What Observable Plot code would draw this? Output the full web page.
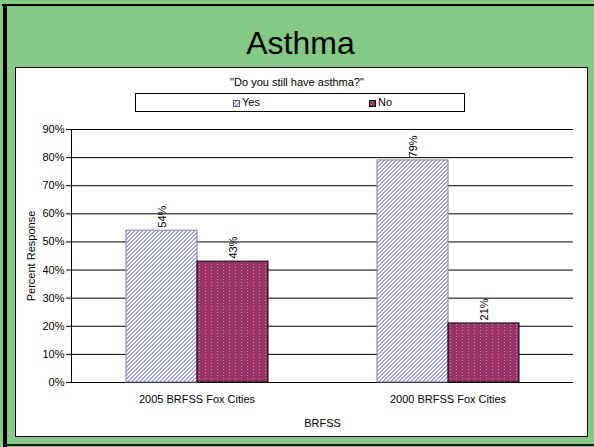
<!DOCTYPE html>
<html>
<head>
<meta charset="utf-8">
<script src="https://cdn.jsdelivr.net/npm/d3@7"></script>
<script src="https://cdn.jsdelivr.net/npm/@observablehq/plot@0.6"></script>
<style>
html, body { margin: 0; padding: 0; }
body { width: 594px; height: 447px; overflow: hidden; position: relative; background: #84CA84; font-family: "Liberation Sans", Arial, sans-serif; color: #000; }
#edgeTop { position: absolute; left: 2px; top: 4px; width: 592px; height: 2px; background: #000; }
#edgeLeft { position: absolute; left: 3px; top: 4px; width: 4px; height: 443px; background: #000; }
#edgeBottom { position: absolute; left: 3px; top: 444px; width: 591px; height: 2px; background: #1a1a1a; }
#title { position: absolute; left: 7px; width: 587px; top: 27px; text-align: center; font-size: 32px; line-height: 32px; }
#box { position: absolute; left: 15px; top: 67px; width: 571px; height: 368px; background: #fff; border: 1px solid #000; }
#subtitle { position: absolute; left: 0; top: 8px; width: 562px; text-align: center; font-size: 11px; line-height: 13px; }
#legend { position: absolute; left: 119px; top: 25px; width: 330px; height: 19px; border: 1px solid #000; box-sizing: border-box; font-size: 11px; line-height: 17px; }
.item { position: absolute; top: 0; }
.item svg { vertical-align: -1px; margin-right: 2px; }
#chart { position: absolute; left: 0; top: 0; }
</style>
</head>
<body>
<div id="edgeTop"></div>
<div id="edgeLeft"></div>
<div id="edgeBottom"></div>
<div id="title">Asthma</div>
<div id="box">
  <div id="chart"></div>
  <div id="subtitle"></div>
  <div id="legend"></div>
</div>
<script>
// ---- data ----
const titleText = "Asthma";
const subtitleText = "\"Do you still have asthma?\"";
const categories = ["2005 BRFSS Fox Cities", "2000 BRFSS Fox Cities"];
const series = ["Yes", "No"];
const yesValues = [0.54, 0.79];
const noValues = [0.43, 0.21];
const yTicks = [0, 0.1, 0.2, 0.3, 0.4, 0.5, 0.6, 0.7, 0.8, 0.9];
const yLabel = "Percent Response";
const xLabel = "BRFSS";

const data = categories.flatMap((c, i) => [
  {category: c, response: "Yes", value: yesValues[i]},
  {category: c, response: "No", value: noValues[i]}
]);
const pct = d3.format(".0%");

const chart = Plot.plot({
  width: 571,
  height: 368,
  marginLeft: 54,
  marginRight: 14,
  marginTop: 61,
  marginBottom: 54,
  style: {fontFamily: "Liberation Sans, Arial, sans-serif", fontSize: "11px", color: "#000", background: "transparent", overflow: "visible"},
  fx: {domain: categories, padding: 0},
  x: {domain: series, paddingInner: 0, paddingOuter: 0.746, axis: null},
  y: {domain: [0, 0.9]},
  marks: [
    Plot.gridY(yTicks, {stroke: "#000", strokeOpacity: 1}),
    Plot.frame({anchor: "left", facetAnchor: "left", stroke: "#000"}),
    Plot.barY(data.filter(d => d.response === "Yes"), {fx: "category", x: "response", y: "value", fill: "url(#patYes)", stroke: "#808080", strokeWidth: 1}),
    Plot.barY(data.filter(d => d.response === "No"), {fx: "category", x: "response", y: "value", fill: "url(#patNo)", stroke: "#000", strokeWidth: 1}),
    Plot.text(data, {fx: "category", x: "response", y: "value", text: d => pct(d.value), rotate: -90, textAnchor: "start", dy: -3, fontSize: 11, fill: "#000"}),
    Plot.axisY(yTicks, {tickFormat: pct, tickSize: 5, tickPadding: 2, stroke: "#000", fill: "#000", label: yLabel, labelArrow: "none", labelAnchor: "center", labelOffset: 44}),
    Plot.axisFx({anchor: "bottom", tickSize: 0, tickPadding: 13, fill: "#000", label: xLabel, labelArrow: "none", labelAnchor: "center", labelOffset: 44})
  ]
});

// hatch patterns drawn as whole pixels so they stay crisp
const yesPixels = [[0,3],[1,2],[2,1],[3,0],[0,0],[1,3],[2,2],[3,1]];
const defs = `<defs>
<pattern id="patYes" width="4" height="4" patternUnits="userSpaceOnUse">
<rect width="4" height="4" fill="#fff"/>
${yesPixels.map(([px, py]) => `<rect x="${px}" y="${py}" width="1" height="1" fill="#A0A0FA" shape-rendering="crispEdges"/>`).join("")}
</pattern>
<pattern id="patNo" width="6" height="3" patternUnits="userSpaceOnUse">
<rect width="6" height="3" fill="#993366"/>
<rect x="2" y="1" width="1" height="1" fill="#C88AAB" shape-rendering="crispEdges"/>
</pattern>
</defs>`;
chart.insertAdjacentHTML("afterbegin", defs);
document.getElementById("chart").appendChild(chart);
document.getElementById("subtitle").textContent = subtitleText;
document.getElementById("title").textContent = titleText;

const legend = document.getElementById("legend");
const legendFills = {Yes: ["url(#patYes)", "#606060"], No: ["url(#patNo)", "#000"]};
const legendLeft = {Yes: 97, No: 233};
series.forEach(s => {
  const el = document.createElement("span");
  el.className = "item";
  el.style.left = legendLeft[s] + "px";
  el.innerHTML = `<svg width="7" height="7"><rect x="0.5" y="0.5" width="6" height="6" fill="${legendFills[s][0]}" stroke="${legendFills[s][1]}"/></svg>`;
  el.appendChild(document.createTextNode(s));
  legend.appendChild(el);
});
</script>
</body>
</html>
